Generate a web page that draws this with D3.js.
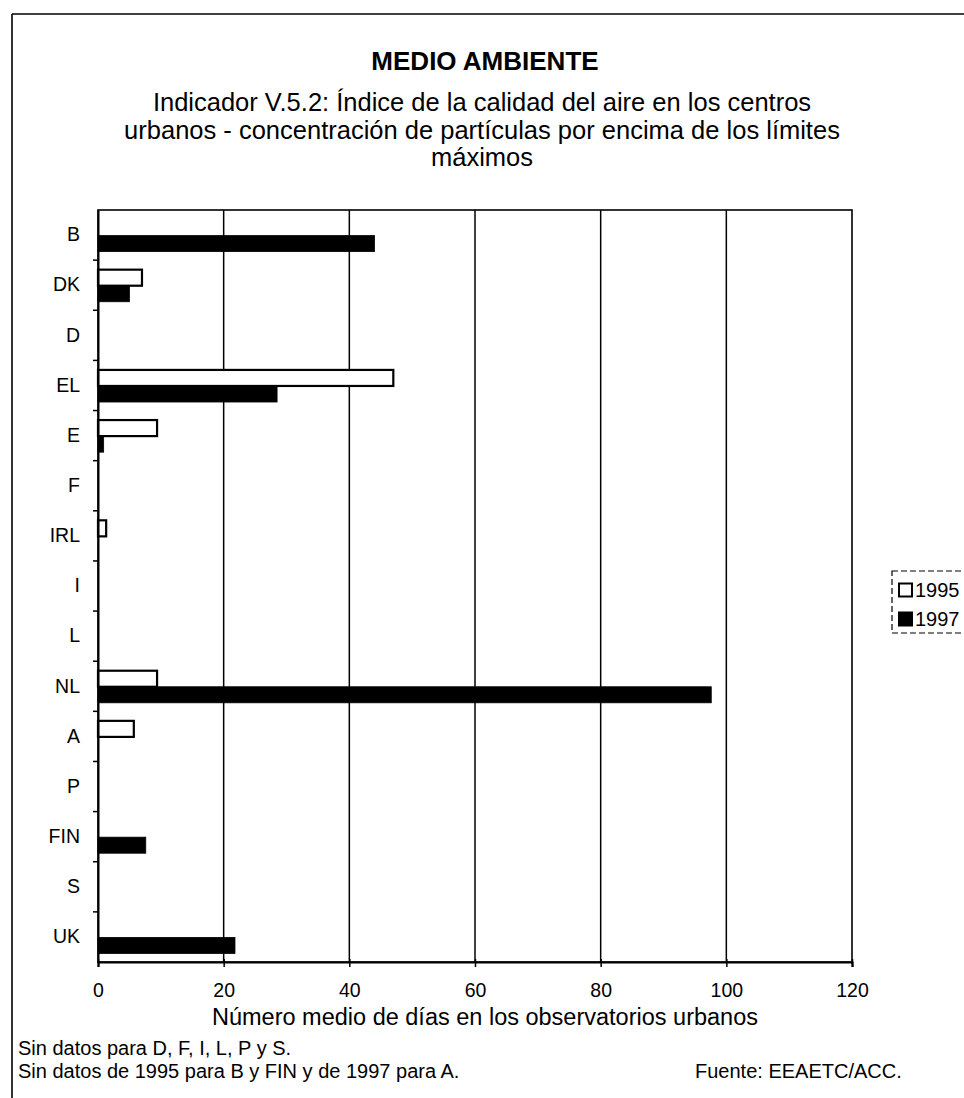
<!DOCTYPE html>
<html lang="es">
<head>
<meta charset="utf-8">
<script src="https://cdn.jsdelivr.net/npm/d3@7"></script>
<style>
  html, body { margin: 0; padding: 0; background: #fff; }
  svg { display: block; font-family: "Liberation Sans", Arial, Helvetica, sans-serif; }
</style>
</head>
<body>
<svg id="chart" width="964" height="1098"></svg>
<script>
// Países (de arriba abajo)
const categories = ["B", "DK", "D", "EL", "E", "F", "IRL", "I", "L", "NL", "A", "P", "FIN", "S", "UK"];
// Número medio de días por encima de los límites (null = sin datos)
const values1995 = [null, 7, null, 47, 9.4, null, 1.3, null, null, 9.4, 5.7, null, null, null, null];
const values1997 = [44, 5, null, 28.5, 0.9, null, null, null, null, 97.6, null, null, 7.6, null, 21.8];
const seriesNames = ["1995", "1997"];
const xTicks = [0, 20, 40, 60, 80, 100, 120];

const titleText = "MEDIO AMBIENTE";
const subtitleLines = [
  "Indicador V.5.2: Índice de la calidad del aire en los centros",
  "urbanos - concentración de partículas por encima de los límites",
  "máximos"
];
const xAxisTitle = "Número medio de días en los observatorios urbanos";
const notes = [
  "Sin datos para D, F, I, L, P y S.",
  "Sin datos de 1995 para B y FIN y de 1997 para A."
];
const sourceText = "Fuente: EEAETC/ACC.";

const svg = d3.select("#chart");
const plot = { left: 98, right: 852, top: 210, bottom: 962 };

const x = d3.scaleLinear().domain([0, 120]).range([plot.left, plot.right]);
const y = d3.scaleBand().domain(categories).range([plot.top, plot.bottom]).paddingInner(0).paddingOuter(0);
const sub = d3.scaleBand().domain(seriesNames)
  .range([y.bandwidth() * 0.19, y.bandwidth() * 0.83]).padding(0);

// Marco exterior de la página
svg.append("line").attr("x1", 12).attr("x2", 964).attr("y1", 14).attr("y2", 14)
  .attr("stroke", "#000").attr("stroke-width", 1.6);
svg.append("line").attr("x1", 12).attr("x2", 12).attr("y1", 14).attr("y2", 1098)
  .attr("stroke", "#000").attr("stroke-width", 1.6);

// Títulos
svg.append("text").attr("x", 485).attr("y", 70).attr("text-anchor", "middle")
  .attr("font-size", 26).attr("font-weight", "bold").text(titleText);
svg.append("g").selectAll("text").data(subtitleLines).join("text")
  .attr("x", 482).attr("y", (d, i) => 111 + i * 27.5)
  .attr("text-anchor", "middle").attr("font-size", 25.5).text(d => d);

// Líneas de cuadrícula verticales
svg.append("g").selectAll("line").data(xTicks.filter(t => t > 0 && t < 120)).join("line")
  .attr("x1", d => x(d)).attr("x2", d => x(d))
  .attr("y1", plot.top).attr("y2", plot.bottom)
  .attr("stroke", "#000").attr("stroke-width", 1.5);

// Barras
const rows = categories.map((c, i) => ({ cat: c, vals: [values1995[i], values1997[i]] }));
const barG = svg.append("g");
rows.forEach(r => {
  r.vals.forEach((v, k) => {
    if (v == null) return;
    const s = seriesNames[k];
    barG.append("rect")
      .attr("x", x(0))
      .attr("y", y(r.cat) + sub(s))
      .attr("width", x(v) - x(0))
      .attr("height", sub.bandwidth())
      .attr("fill", k === 0 ? "#fff" : "#000")
      .attr("stroke", "#000")
      .attr("stroke-width", k === 0 ? 2.2 : 0.8);
  });
});

// Marco del área de trazado
svg.append("rect").attr("x", plot.left).attr("y", plot.top)
  .attr("width", plot.right - plot.left).attr("height", plot.bottom - plot.top)
  .attr("fill", "none").attr("stroke", "#000").attr("stroke-width", 1.6);

// Eje X
const xAxis = svg.append("g").attr("transform", `translate(0,${plot.bottom})`)
  .call(d3.axisBottom(x).tickValues(xTicks).tickSize(5).tickPadding(16));
xAxis.select(".domain").attr("stroke-width", 2.2);
xAxis.selectAll(".tick line").attr("y1", -3).attr("stroke-width", 1.5);
xAxis.selectAll("text").attr("font-size", 19.5).attr("fill", "#000")
  .attr("font-family", "Liberation Sans, Arial, sans-serif");

// Eje Y
const yAxis = svg.append("g").attr("transform", `translate(${plot.left},0)`)
  .call(d3.axisLeft(y).tickSize(0).tickPadding(18));
yAxis.select(".domain").attr("stroke-width", 2);
yAxis.selectAll("text").attr("font-size", 19.5).attr("fill", "#000")
  .attr("font-family", "Liberation Sans, Arial, sans-serif");
// Marcas entre categorías
svg.append("g").selectAll("line").data(categories.slice(1)).join("line")
  .attr("x1", plot.left - 5).attr("x2", plot.left)
  .attr("y1", d => y(d)).attr("y2", d => y(d))
  .attr("stroke", "#000").attr("stroke-width", 1.5);

// Título del eje X
svg.append("text").attr("x", 485).attr("y", 1025).attr("text-anchor", "middle")
  .attr("font-size", 23.5).text(xAxisTitle);

// Leyenda
const leg = svg.append("g");
leg.append("rect").attr("x", 892).attr("y", 571).attr("width", 80).attr("height", 62)
  .attr("fill", "#fff").attr("stroke", "#000").attr("stroke-width", 1.2)
  .attr("stroke-dasharray", "6,3");
seriesNames.forEach((s, k) => {
  const cy = 590 + k * 29;
  leg.append("rect").attr("x", 899).attr("y", cy - 6.5).attr("width", 13).attr("height", 13)
    .attr("fill", k === 0 ? "#fff" : "#000").attr("stroke", "#000").attr("stroke-width", 2);
  leg.append("text").attr("x", 915).attr("y", cy + 7).attr("font-size", 20).text(s);
});

// Notas y fuente
svg.append("g").selectAll("text").data(notes).join("text")
  .attr("x", 18).attr("y", (d, i) => 1055 + i * 23)
  .attr("font-size", 20).text(d => d);
svg.append("text").attr("x", 695).attr("y", 1078).attr("font-size", 20).text(sourceText);
</script>
</body>
</html>
